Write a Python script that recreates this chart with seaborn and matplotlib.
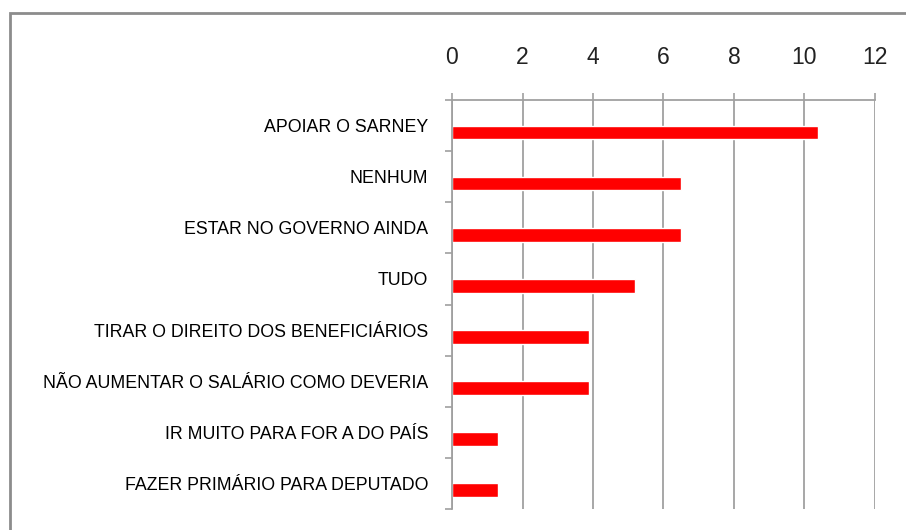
import pandas as pd
import matplotlib
matplotlib.use("Agg")
import matplotlib.pyplot as plt
import seaborn as sns
from matplotlib.patches import Rectangle
from matplotlib.ticker import FixedLocator

categorias = [
    "APOIAR O SARNEY",
    "NENHUM",
    "ESTAR NO GOVERNO AINDA",
    "TUDO",
    "TIRAR O DIREITO DOS BENEFICIÁRIOS",
    "NÃO AUMENTAR O SALÁRIO COMO DEVERIA",
    "IR MUITO PARA FOR A DO PAÍS",
    "FAZER PRIMÁRIO PARA DEPUTADO",
]
valores = [10.39, 6.49, 6.49, 5.19, 3.90, 3.90, 1.30, 1.30]
ticks_x = [0, 2, 4, 6, 8, 10, 12]

df = pd.DataFrame({"categoria": categorias, "valor": valores, "serie": "%"})

sns.set_style("white")
plt.rcParams["font.family"] = ["Liberation Sans", "DejaVu Sans"]

fig = plt.figure(figsize=(9.06, 5.30), dpi=100)
ax = fig.add_axes([452 / 906, 1 - 509 / 530, 423 / 906, 409 / 530])

# serie vazia antes da real, como no Excel, para deslocar a barra para baixo
sns.barplot(data=df, x="valor", y="categoria", hue="serie",
            hue_order=["vazio", "%"], palette={"vazio": "white", "%": "#ff0000"},
            width=0.54, dodge=True, legend=False, saturation=1, ax=ax,
            order=categorias)

grid_cor = "#a0a0a0"
ax.set_xlim(0, 12)
ax.set_ylim(len(categorias) - 0.5, -0.5)
ax.xaxis.tick_top()
ax.set_xticks(ticks_x)
ax.set_xticklabels([str(t) for t in ticks_x], fontsize=16.5, color="#222222")
ax.tick_params(axis="x", which="major", direction="out", length=5, width=1.2,
               color=grid_cor, pad=17, top=True, bottom=False)
ax.grid(axis="x", color=grid_cor, linewidth=1.3)
ax.set_axisbelow(True)

ax.yaxis.set_minor_locator(FixedLocator([i - 0.5 for i in range(len(categorias) + 1)]))
ax.tick_params(axis="y", which="major", length=0, pad=17, labelsize=12.8,
               labelcolor="black")
ax.tick_params(axis="y", which="minor", length=5, width=1.2, color=grid_cor, left=True)

ax.set_xlabel("")
ax.set_ylabel("")
for lado in ["right", "bottom"]:
    ax.spines[lado].set_visible(False)
for lado in ["top", "left"]:
    ax.spines[lado].set_color(grid_cor)
    ax.spines[lado].set_linewidth(1.3)

# moldura da área do gráfico
fig.patches.append(Rectangle((10 / 906, -0.05), 1.0, 1 - 13 / 530 + 0.05,
                             transform=fig.transFigure, fill=False,
                             edgecolor="#8c8c8c", linewidth=2))

fig.savefig("out.png", dpi=100)
